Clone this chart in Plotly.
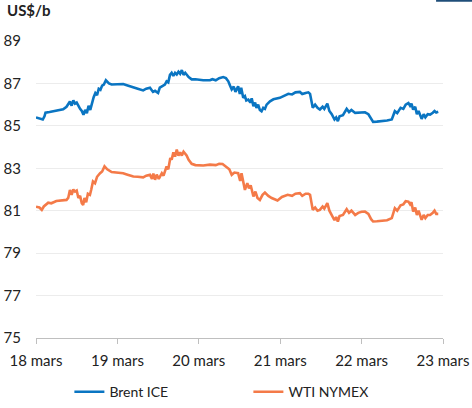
import pandas as pd
import plotly.graph_objects as go

# hours since 18 mars 00:00 and prices (US$/b)
brent_hours = [0.0, 1.0, 2.0, 2.5, 2.8, 4, 6, 7, 8, 9, 10, 10.5, 11, 11.5, 12, 13, 13.5, 14, 14.5, 15, 15.5, 16, 16.5, 17, 17.5, 18, 18.5, 19, 19.5, 20, 20.6, 21.5, 22.3, 24, 25.7, 27, 28.7, 30, 31.6, 32.5, 33.6, 34.5, 35.1, 36, 36.5, 37.1, 38, 38.5, 39, 39.5, 40, 40.5, 41, 41.5, 42, 42.5, 43, 43.5, 44, 44.4, 45, 45.9, 47, 49.3, 51.3, 52, 53, 54, 55.2, 56, 56.7, 57.2, 57.7, 58.3, 58.8, 59.6, 60.1, 60.5, 61.1, 61.6, 62, 62.6, 63.2, 63.6, 64.1, 64.6, 65, 65.5, 66, 66.5, 67, 67.5, 68, 69, 70, 71.9, 73, 74.4, 75.5, 76.5, 77.8, 78.5, 79.5, 80.3, 80.8, 81.2, 81.6, 82.3, 83, 83.7, 84.5, 85, 85.9, 86.5, 87.2, 88, 88.5, 89, 89.5, 90.5, 91.6, 92.3, 93, 94.1, 95, 96, 97, 98, 98.8, 99.4, 100.5, 102.4, 103.5, 104.9, 105.3, 105.8, 106.5, 107.5, 108.3, 109, 109.8, 110.3, 110.7, 111.2, 111.8, 112.3, 112.8, 113.3, 113.7, 114.3, 114.8, 115.5, 116.2, 117, 117.5, 118, 118.6]
brent_values = [85.40, 85.35, 85.30, 85.45, 85.62, 85.65, 85.70, 85.74, 85.78, 85.90, 86.15, 85.95, 86.20, 86.05, 86.10, 85.80, 85.70, 85.52, 85.75, 85.60, 85.95, 85.75, 86.10, 86.35, 86.55, 86.45, 86.75, 86.70, 86.90, 86.95, 87.15, 87.00, 86.95, 86.95, 86.97, 86.90, 86.80, 86.75, 86.67, 86.75, 86.80, 86.60, 86.65, 86.55, 86.80, 86.85, 86.95, 87.10, 87.05, 87.40, 87.50, 87.35, 87.50, 87.42, 87.55, 87.45, 87.63, 87.40, 87.50, 87.42, 87.30, 87.19, 87.20, 87.15, 87.15, 87.20, 87.15, 87.25, 87.30, 87.25, 87.10, 86.90, 86.72, 86.85, 86.60, 86.87, 86.50, 86.80, 86.32, 86.40, 86.20, 86.24, 86.10, 86.30, 85.93, 86.10, 85.85, 86.00, 85.75, 85.69, 85.85, 85.80, 86.00, 86.16, 86.25, 86.32, 86.40, 86.51, 86.48, 86.58, 86.60, 86.50, 86.55, 86.58, 86.51, 86.20, 85.85, 86.00, 85.85, 85.77, 85.90, 85.80, 86.05, 85.70, 85.55, 85.30, 85.40, 85.22, 85.45, 85.50, 85.80, 85.65, 85.75, 85.61, 85.62, 85.66, 85.64, 85.55, 85.35, 85.19, 85.20, 85.22, 85.25, 85.30, 85.45, 85.69, 85.60, 85.85, 85.80, 86.00, 86.08, 85.95, 86.05, 85.77, 85.90, 85.55, 85.70, 85.45, 85.33, 85.55, 85.40, 85.55, 85.53, 85.62, 85.70, 85.63, 85.66]

wti_hours = [0, 1, 1.7, 2.3, 3.6, 4.5, 6, 7.5, 9, 9.5, 10, 10.5, 11, 11.5, 12, 12.5, 13, 13.5, 13.9, 14.3, 14.8, 15.3, 15.9, 16.3, 16.8, 17.4, 18, 18.9, 19.5, 20.2, 21, 22.3, 24, 25.7, 27, 28.7, 30, 31.6, 32.5, 33.6, 34.2, 34.6, 35.1, 35.6, 36.2, 37.1, 37.6, 38.5, 39, 39.6, 40, 40.5, 41, 41.5, 42, 42.5, 43, 43.5, 44.4, 45, 45.9, 47, 49.3, 51.3, 53, 54, 55, 56.2, 57, 57.7, 58.5, 59.6, 60.2, 60.6, 61.2, 61.6, 62.3, 62.8, 63.3, 64.1, 64.7, 65.3, 66, 66.8, 67.5, 68.5, 69.5, 70.5, 71.2, 72.5, 74.2, 75.5, 76.5, 77.8, 78.5, 79.5, 80.3, 80.8, 81.2, 81.6, 82.3, 83, 83.7, 84.5, 85, 85.9, 86.5, 87.2, 88, 88.5, 89, 89.5, 90.5, 91.6, 92.3, 93, 94.1, 95, 96, 97, 98, 98.8, 99.4, 100.5, 102.4, 103.5, 104.9, 105.3, 105.8, 106.5, 107.5, 108.3, 109, 109.8, 110.3, 110.7, 111.2, 111.8, 112.3, 112.8, 113.3, 113.7, 114.3, 114.8, 115.5, 116.2, 117, 117.5, 118, 118.6]
wti_values = [81.19, 81.15, 81.04, 81.20, 81.38, 81.35, 81.46, 81.48, 81.51, 81.60, 81.98, 81.75, 82.00, 81.90, 81.95, 81.60, 81.70, 81.35, 81.27, 81.60, 81.40, 81.80, 81.75, 82.00, 82.38, 82.30, 82.60, 82.77, 82.85, 83.09, 82.95, 82.82, 82.80, 82.77, 82.70, 82.61, 82.60, 82.57, 82.65, 82.69, 82.50, 82.75, 82.46, 82.70, 82.50, 82.77, 82.65, 83.09, 82.95, 83.48, 83.40, 83.75, 83.55, 83.88, 83.60, 83.75, 83.60, 83.78, 83.60, 83.40, 83.21, 83.15, 83.13, 83.17, 83.15, 83.21, 83.20, 83.06, 82.95, 82.69, 82.80, 82.77, 82.40, 82.77, 82.20, 81.98, 82.30, 82.05, 82.20, 81.67, 81.90, 81.60, 81.51, 81.75, 81.86, 81.70, 81.60, 81.55, 81.48, 81.65, 81.75, 81.70, 81.80, 81.83, 81.70, 81.80, 81.80, 81.75, 81.30, 81.04, 81.15, 81.00, 81.04, 81.20, 81.10, 81.36, 81.00, 80.80, 80.55, 80.70, 80.49, 80.75, 80.80, 81.07, 80.90, 81.00, 80.80, 80.90, 80.95, 80.96, 80.85, 80.60, 80.49, 80.50, 80.52, 80.55, 80.65, 80.90, 81.12, 81.00, 81.25, 81.30, 81.45, 81.43, 81.30, 81.40, 80.96, 81.15, 80.80, 81.00, 80.70, 80.57, 80.80, 80.65, 80.80, 80.80, 80.90, 81.00, 80.85, 80.85]

tick_dates = ["2024-03-18", "2024-03-19", "2024-03-20", "2024-03-21", "2024-03-22", "2024-03-23"]
tick_labels = ["18 mars", "19 mars", "20 mars", "21 mars", "22 mars", "23 mars"]
y_ticks = [75, 77, 79, 81, 83, 85, 87, 89]

base = pd.Timestamp("2024-03-18")
brent_x = base + pd.to_timedelta(brent_hours, unit="h")
wti_x = base + pd.to_timedelta(wti_hours, unit="h")

FONT = "Lato, 'Open Sans', sans-serif"

fig = go.Figure()
fig.add_trace(go.Scatter(x=brent_x, y=brent_values, mode="lines", name="Brent ICE",
                         line=dict(color="#0a75c2", width=2.6)))
fig.add_trace(go.Scatter(x=wti_x, y=wti_values, mode="lines", name="WTI NYMEX",
                         line=dict(color="#f47a48", width=2.6)))

fig.update_layout(
    width=472, height=408,
    margin=dict(l=36, r=29, t=41, b=70, autoexpand=False),
    paper_bgcolor="white", plot_bgcolor="white",
    font=dict(family=FONT, size=15, color="#222222"),
    showlegend=True,
    legend=dict(orientation="h", xref="container", yref="container",
                x=0.147, xanchor="left", y=0.039, yanchor="middle",
                entrywidth=134, entrywidthmode="pixels",
                font=dict(size=14, family=FONT, color="#222222")),
    xaxis=dict(range=[pd.Timestamp(tick_dates[0]), pd.Timestamp(tick_dates[-1])],
               tickvals=[pd.Timestamp(d) for d in tick_dates], ticktext=tick_labels,
               showgrid=False, zeroline=False, showline=True, linecolor="#bfbfbf", linewidth=1,
               ticks="outside", ticklen=5, tickcolor="#bfbfbf", ticklabelstandoff=4,
               automargin=False),
    yaxis=dict(range=[75, 89], tickvals=y_ticks, showgrid=True, gridcolor="#ececec", gridwidth=1,
               zeroline=False, showline=False, ticks="", ticklabelstandoff=14, automargin=False),
    annotations=[dict(text="<b>US$/b</b>", xref="paper", yref="paper", x=-0.076, y=1.103,
                      xanchor="left", yanchor="middle", showarrow=False,
                      font=dict(size=15, family=FONT, color="#222222"))],
    shapes=[dict(type="rect", xref="paper", yref="paper", x0=0.983, x1=1.08, y0=1.132, y1=1.15,
                 fillcolor="#1f4e79", line=dict(width=0))],
)

fig.write_html("out.html")
